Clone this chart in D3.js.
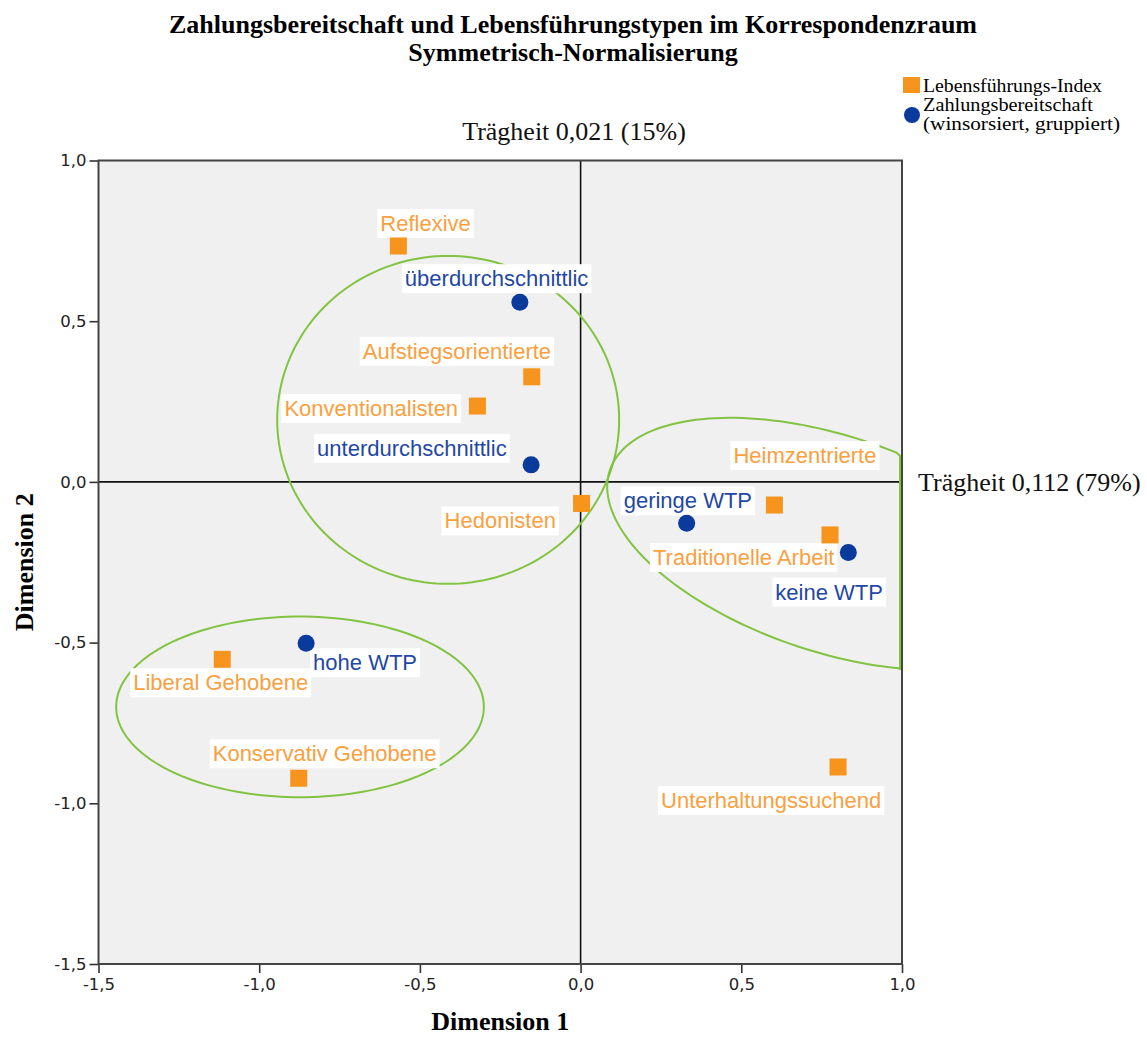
<!DOCTYPE html>
<html>
<head>
<meta charset="utf-8">
<script src="https://cdn.jsdelivr.net/npm/d3@7"></script>
<style>
body { margin: 0; background: #fff; }
</style>
</head>
<body>
<svg id="chart" width="1147" height="1041"></svg>
<script>
// Lebensführungs-Index (Quadrate)
var lifestyleNames = ["Reflexive", "Aufstiegsorientierte", "Konventionalisten", "Hedonisten",
    "Heimzentrierte", "Traditionelle Arbeit", "Liberal Gehobene", "Konservativ Gehobene", "Unterhaltungssuchend"];
var lifestyleDim1 = [-0.567, -0.152, -0.321, 0.003, 0.603, 0.776, -1.115, -0.877, 0.801];
var lifestyleDim2 = [0.734, 0.327, 0.236, -0.067, -0.072, -0.165, -0.552, -0.922, -0.887];

// Zahlungsbereitschaft (Kreise)
var wtpNames = ["überdurchschnittlic", "unterdurchschnittlic", "geringe WTP", "keine WTP", "hohe WTP"];
var wtpDim1 = [-0.189, -0.154, 0.330, 0.833, -0.854];
var wtpDim2 = [0.559, 0.053, -0.129, -0.220, -0.502];

var tickValues = [-1.5, -1.0, -0.5, 0.0, 0.5, 1.0];

// gruppen-ellipsen: mitte, halbachsen (in Dimensions-Einheiten), drehung in grad
var groupCx = [-0.412, 0.782, -0.873];
var groupCy = [0.193, -0.193, -0.700];
var groupRx = [0.532, 0.728, 0.572];
var groupRy = [0.510, 0.336, 0.281];
var groupRot = [0, 18.3, 0];

// beschriftungs-versatz (pixel, textanfang / grundlinie relativ zum punkt)
var lifestyleLabelDx = [-18, -169, -193, -137, -41, -177, -89, -86, -177];
var lifestyleLabelDy = [-15, -18, 10, 25, -42, 30, 31, -17, 41];
var wtpLabelDx = [-115, -214, -63, -73, 7];
var wtpLabelDy = [-16, -9, -15, 47, 27];

var orange = "#f7941d";
var orangeText = "#f9a03f";
var blue = "#0a3a9b";
var blueText = "#1f47a5";
var green = "#82c341";

var svg = d3.select("#chart");

var x = d3.scaleLinear().domain([-1.5, 1]).range([98.5, 902]);
var y = d3.scaleLinear().domain([-1.5, 1]).range([964, 160.5]);

function fmt(d) {
    return d.toFixed(1).replace(".", ",");
}

// hintergrund
svg.append("rect")
    .attr("x", x(-1.5)).attr("y", y(1))
    .attr("width", x(1) - x(-1.5)).attr("height", y(-1.5) - y(1))
    .attr("fill", "#f0f0f0");

// achsen
var yAxis = svg.append("g")
    .attr("transform", "translate(" + x(-1.5) + ",0)")
    .call(d3.axisLeft(y).tickValues(tickValues).tickSize(9).tickPadding(3).tickFormat(fmt));
var xAxis = svg.append("g")
    .attr("transform", "translate(0," + y(-1.5) + ")")
    .call(d3.axisBottom(x).tickValues(tickValues).tickSize(9).tickPadding(5).tickFormat(fmt));

[xAxis, yAxis].forEach(function(a) {
    a.select(".domain").remove();
    a.selectAll(".tick line").attr("stroke", "#333").attr("stroke-width", 1.6);
    a.selectAll(".tick text")
        .attr("fill", "#222")
        .style("font-family", "DejaVu Sans, sans-serif")
        .style("font-size", "16.5px");
});

// nulllinien
svg.append("line")
    .attr("x1", x(0)).attr("x2", x(0)).attr("y1", y(1)).attr("y2", y(-1.5))
    .attr("stroke", "#111").attr("stroke-width", 1.6);
svg.append("line")
    .attr("x1", x(-1.5)).attr("x2", x(1)).attr("y1", y(0)).attr("y2", y(0))
    .attr("stroke", "#111").attr("stroke-width", 1.6);

// rahmen
svg.append("rect")
    .attr("x", x(-1.5)).attr("y", y(1))
    .attr("width", x(1) - x(-1.5)).attr("height", y(-1.5) - y(1))
    .attr("fill", "none")
    .attr("stroke", "#444")
    .attr("stroke-width", 2);

// ellipsen (am rechten rand abgeschnitten wie im original)
var ellipseLine = d3.line();
for (var e = 0; e < groupCx.length; e++) {
    var cxp = x(groupCx[e]);
    var cyp = y(groupCy[e]);
    var a = groupRx[e] * (x(1) - x(0));
    var b = groupRy[e] * (y(0) - y(1));
    var th = groupRot[e] * Math.PI / 180;
    var pts = d3.range(0, 361, 2).map(function(deg) {
        var t = deg * Math.PI / 180;
        var px = cxp + a * Math.cos(t) * Math.cos(th) - b * Math.sin(t) * Math.sin(th);
        var py = cyp + a * Math.cos(t) * Math.sin(th) + b * Math.sin(t) * Math.cos(th);
        px = Math.max(x(-1.5) + 2, Math.min(x(1) - 2, px));
        return [px, py];
    });
    svg.append("path")
        .attr("d", ellipseLine(pts) + "Z")
        .attr("fill", "none")
        .attr("stroke", green)
        .attr("stroke-width", 2);
}

// beschriftung mit weissem kasten
function addLabel(px, py, text, color) {
    var g = svg.append("g");
    var t = g.append("text")
        .attr("x", px).attr("y", py)
        .attr("fill", color)
        .style("font-family", "Liberation Sans, Arial, sans-serif")
        .style("font-size", "22px")
        .text(text);
    var bb = t.node().getBBox();
    g.insert("rect", "text")
        .attr("x", bb.x - 3).attr("y", bb.y - 2)
        .attr("width", bb.width + 6).attr("height", bb.height + 4)
        .attr("fill", "#fff");
}

for (var i = 0; i < lifestyleNames.length; i++) {
    addLabel(x(lifestyleDim1[i]) + lifestyleLabelDx[i], y(lifestyleDim2[i]) + lifestyleLabelDy[i],
        lifestyleNames[i], orangeText);
}
for (var j = 0; j < wtpNames.length; j++) {
    addLabel(x(wtpDim1[j]) + wtpLabelDx[j], y(wtpDim2[j]) + wtpLabelDy[j], wtpNames[j], blueText);
}

// punkte
var sq = 17;
svg.append("g").selectAll("rect")
    .data(lifestyleNames)
    .enter().append("rect")
    .attr("x", function(d, i) { return x(lifestyleDim1[i]) - sq / 2; })
    .attr("y", function(d, i) { return y(lifestyleDim2[i]) - sq / 2; })
    .attr("width", sq).attr("height", sq)
    .attr("fill", orange);

svg.append("g").selectAll("circle")
    .data(wtpNames)
    .enter().append("circle")
    .attr("cx", function(d, i) { return x(wtpDim1[i]); })
    .attr("cy", function(d, i) { return y(wtpDim2[i]); })
    .attr("r", 8.5)
    .attr("fill", blue);

// titel
var serif = "Liberation Serif, Times New Roman, serif";
svg.append("text")
    .attr("x", 573).attr("y", 33)
    .attr("text-anchor", "middle")
    .style("font-family", serif).style("font-size", "26px").style("font-weight", "bold")
    .text("Zahlungsbereitschaft und Lebensführungstypen im Korrespondenzraum");
svg.append("text")
    .attr("x", 573).attr("y", 61)
    .attr("text-anchor", "middle")
    .style("font-family", serif).style("font-size", "26px").style("font-weight", "bold")
    .text("Symmetrisch-Normalisierung");

// trägheit
svg.append("text")
    .attr("x", 574).attr("y", 140)
    .attr("text-anchor", "middle")
    .attr("fill", "#111")
    .style("font-family", serif).style("font-size", "26px")
    .text("Trägheit 0,021 (15%)");
svg.append("text")
    .attr("x", 918).attr("y", 491)
    .attr("fill", "#111")
    .style("font-family", serif).style("font-size", "26px")
    .text("Trägheit 0,112 (79%)");

// achsentitel
svg.append("text")
    .attr("x", (x(-1.5) + x(1)) / 2).attr("y", 1030)
    .attr("text-anchor", "middle")
    .style("font-family", serif).style("font-size", "26px").style("font-weight", "bold")
    .text("Dimension 1");
svg.append("text")
    .attr("transform", "translate(33," + ((y(1) + y(-1.5)) / 2) + ") rotate(-90)")
    .attr("text-anchor", "middle")
    .style("font-family", serif).style("font-size", "26px").style("font-weight", "bold")
    .text("Dimension 2");

// legende
var legend = svg.append("g");
legend.append("rect")
    .attr("x", 903).attr("y", 77).attr("width", 17).attr("height", 16)
    .attr("fill", orange);
legend.append("text")
    .attr("x", 923).attr("y", 92)
    .attr("textLength", 179).attr("lengthAdjust", "spacingAndGlyphs")
    .style("font-family", serif).style("font-size", "19px")
    .text("Lebensführungs-Index");
legend.append("circle")
    .attr("cx", 912).attr("cy", 115).attr("r", 8)
    .attr("fill", blue);
legend.append("text")
    .attr("x", 923).attr("y", 111)
    .attr("textLength", 170).attr("lengthAdjust", "spacingAndGlyphs")
    .style("font-family", serif).style("font-size", "18px")
    .text("Zahlungsbereitschaft");
legend.append("text")
    .attr("x", 923).attr("y", 130)
    .attr("textLength", 197).attr("lengthAdjust", "spacingAndGlyphs")
    .style("font-family", serif).style("font-size", "18px")
    .text("(winsorsiert, gruppiert)");
</script>
</body>
</html>
